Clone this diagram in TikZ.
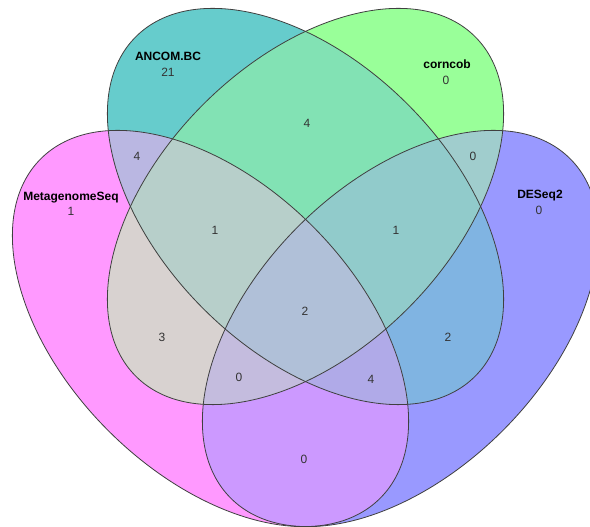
\documentclass[tikz,border=0pt]{standalone}
\usepackage{fontspec}
\setmainfont{Liberation Sans}
\definecolor{cM}{RGB}{255,153,255}
\definecolor{cT}{RGB}{102,204,204}
\definecolor{cG}{RGB}{153,255,153}
\definecolor{cB}{RGB}{153,153,255}
\definecolor{cMT}{RGB}{186,183,226}
\definecolor{cMG}{RGB}{216,210,208}
\definecolor{cMB}{RGB}{204,153,255}
\definecolor{cTG}{RGB}{130,226,180}
\definecolor{cTB}{RGB}{128,180,226}
\definecolor{cGB}{RGB}{160,205,205}
\definecolor{cMTG}{RGB}{183,207,202}
\definecolor{cMTB}{RGB}{176,170,232}
\definecolor{cMGB}{RGB}{196,188,222}
\definecolor{cTGB}{RGB}{145,203,203}
\definecolor{cMTGB}{RGB}{176,192,216}
\newcommand\vcM{\clip[shift={(210.5,198.5)},rotate=-45] (0,0) ellipse [x radius=240pt,y radius=144.5pt];}
\newcommand\vcT{\clip[shift={(305.5,320.5)},rotate=-45] (0,0) ellipse [x radius=240pt,y radius=144.5pt];}
\newcommand\vcG{\clip[shift={(305.5,320.5)},rotate=45] (0,0) ellipse [x radius=240pt,y radius=144.5pt];}
\newcommand\vcB{\clip[shift={(400.5,198.5)},rotate=45] (0,0) ellipse [x radius=240pt,y radius=144.5pt];}
\newcommand\vregfill[1]{\fill[#1] (0,0) rectangle (590,527);}
\tikzset{
  outline/.style={draw=black!75,line width=0.8pt},
  setlabel/.style={font=\fontsize{12}{14}\selectfont\bfseries,inner sep=0pt,text height=8.6pt,text depth=0pt,text=black},
  count/.style={font=\fontsize{12}{14}\selectfont,inner sep=0pt,text height=8.6pt,text depth=0pt,text=black!80}
}
\begin{document}
\begin{tikzpicture}[x=1pt,y=1pt]
\useasboundingbox (0,0) rectangle (590,527);
\fill[white] (0,0) rectangle (590,527);
\clip (0,0) rectangle (590,527);
% singles
\begin{scope}\vcM\vregfill{cM}\end{scope}
\begin{scope}\vcT\vregfill{cT}\end{scope}
\begin{scope}\vcG\vregfill{cG}\end{scope}
\begin{scope}\vcB\vregfill{cB}\end{scope}
% pairs
\begin{scope}\vcM\vcT\vregfill{cMT}\end{scope}
\begin{scope}\vcM\vcG\vregfill{cMG}\end{scope}
\begin{scope}\vcM\vcB\vregfill{cMB}\end{scope}
\begin{scope}\vcT\vcG\vregfill{cTG}\end{scope}
\begin{scope}\vcT\vcB\vregfill{cTB}\end{scope}
\begin{scope}\vcG\vcB\vregfill{cGB}\end{scope}
% triples
\begin{scope}\vcM\vcT\vcG\vregfill{cMTG}\end{scope}
\begin{scope}\vcM\vcT\vcB\vregfill{cMTB}\end{scope}
\begin{scope}\vcM\vcG\vcB\vregfill{cMGB}\end{scope}
\begin{scope}\vcT\vcG\vcB\vregfill{cTGB}\end{scope}
% all
\begin{scope}\vcM\vcT\vcG\vcB\vregfill{cMTGB}\end{scope}
% outlines
\draw[outline,shift={(210.5,198.5)},rotate=-45] (0,0) ellipse [x radius=240pt,y radius=144.5pt];
\draw[outline,shift={(305.5,320.5)},rotate=-45] (0,0) ellipse [x radius=240pt,y radius=144.5pt];
\draw[outline,shift={(305.5,320.5)},rotate=45] (0,0) ellipse [x radius=240pt,y radius=144.5pt];
\draw[outline,shift={(400.5,198.5)},rotate=45] (0,0) ellipse [x radius=240pt,y radius=144.5pt];
% set labels
\node[setlabel] (lT) at (168,471) {ANCOM.BC};
\node[setlabel] (lG) at (447,463) {corncob};
\node[setlabel] (lM) at (71,331) {MetagenomeSeq};
\node[setlabel] (lB) at (540,333) {DESeq2};
% counts
\node[count] (nT) at (168,455) {21};
\node[count] (nG) at (446,447) {0};
\node[count] (nM) at (71,316) {1};
\node[count] (nB) at (539,317) {0};
\node[count] (nTG) at (307,404) {4};
\node[count] (nMT) at (137,371) {4};
\node[count] (nGB) at (473,371) {0};
\node[count] (nMTG) at (215,297) {1};
\node[count] (nTGB) at (396,297) {1};
\node[count] (nAll) at (305,216) {2};
\node[count] (nMG) at (162,190) {3};
\node[count] (nTB) at (448,190) {2};
\node[count] (nMGB) at (239,150) {0};
\node[count] (nMTB) at (371,148) {4};
\node[count] (nMB) at (304,68) {0};
\end{tikzpicture}
\end{document}
